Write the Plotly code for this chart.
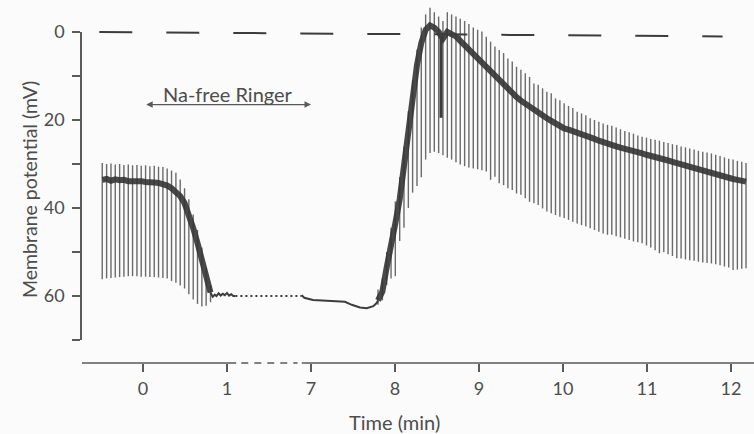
import plotly.graph_objects as go

# ---------------- data (time in min, membrane potential in mV, plotted downward) ----------------
seg1_t = [-0.485, -0.433, -0.381, -0.330, -0.278, -0.227, -0.175, -0.124, -0.072, -0.021,
          0.031, 0.082, 0.134, 0.185, 0.237, 0.288, 0.340, 0.392, 0.443, 0.495,
          0.546, 0.598, 0.649, 0.701, 0.752, 0.804]
seg1_top = [29.8, 30.0, 29.9, 30.1, 30.0, 30.2, 30.1, 30.3, 30.2, 30.4,
            30.3, 30.5, 30.4, 30.6, 30.7, 31.0, 31.5, 32.0, 33.5, 35.5,
            38.0, 41.5, 45.0, 49.0, 53.5, 57.5]
seg1_bot = [56.2, 56.0, 55.9, 55.8, 55.7, 55.6, 55.5, 55.5, 55.5, 55.6,
            55.6, 55.7, 55.7, 55.8, 55.9, 56.0, 56.6, 57.0, 57.6, 58.3,
            59.6, 60.8, 61.8, 62.4, 62.2, 61.4]
seg1_base = [33.6, 33.4, 33.8, 33.5, 33.7, 33.6, 33.9, 33.8, 34.0, 33.9,
             34.1, 34.0, 34.2, 34.3, 34.5, 34.9, 35.5, 36.3, 37.3, 38.9,
             41.4, 44.6, 48.0, 52.2, 56.4, 59.2]

rest1_t = [0.804, 0.830, 0.855, 0.875, 0.900, 0.925, 0.950, 0.975, 1.000, 1.025, 1.050, 1.075, 1.100]
rest1_v = [59.2, 60.2, 59.7, 60.0, 59.4, 59.9, 59.5, 59.8, 59.3, 59.9, 59.6, 60.0, 60.0]

gap_t = [1.100, 6.889]
gap_v = [60.0, 60.0]

rest2_t = [6.889, 6.920, 7.024, 7.226, 7.405, 7.485, 7.583, 7.663, 7.742, 7.782, 7.798]
rest2_v = [59.8, 60.4, 60.9, 61.1, 61.3, 62.0, 62.6, 62.8, 62.3, 61.6, 61.0]

seg2_t = [7.798, 7.850, 7.901, 7.953, 8.004, 8.056, 8.107, 8.159, 8.210, 8.262,
          8.313, 8.365, 8.417, 8.468, 8.520, 8.571, 8.623, 8.674, 8.726, 8.777,
          8.829, 8.880, 8.932, 8.984, 9.035, 9.087, 9.138, 9.190, 9.241, 9.293,
          9.344, 9.396, 9.447, 9.499, 9.551, 9.602, 9.654, 9.705, 9.757, 9.808,
          9.860, 9.911, 9.963, 10.014, 10.066, 10.117, 10.169, 10.221, 10.272, 10.324,
          10.375, 10.427, 10.478, 10.530, 10.581, 10.633, 10.684, 10.736, 10.788, 10.839,
          10.891, 10.942, 10.994, 11.045, 11.097, 11.148, 11.200, 11.251, 11.303, 11.355,
          11.406, 11.458, 11.509, 11.561, 11.612, 11.664, 11.715, 11.767, 11.818, 11.870,
          11.922, 11.973, 12.025, 12.076, 12.128, 12.179]
seg2_top = [58.5, 56.0, 50.0, 44.5, 38.5, 33.0, 26.0, 18.0, 11.0, 4.0,
            -1.0, -4.0, -5.5, -4.5, -3.5, -2.5, -4.5, -4.0, -3.5, -3.0,
            -2.5, -1.8, -1.0, -0.5, -0.1, 1.1, 2.2, 3.3, 4.1, 4.8,
            6.0, 6.7, 7.9, 8.6, 9.4, 10.2, 11.7, 12.0, 12.8, 13.6,
            13.9, 15.1, 15.5, 16.2, 16.8, 17.3, 18.1, 18.5, 18.9, 19.6,
            20.0, 20.4, 20.8, 21.1, 21.3, 21.7, 22.1, 22.5, 22.8, 23.1,
            23.5, 23.8, 24.0, 24.3, 24.5, 24.7, 25.0, 25.2, 25.5, 25.7,
            26.0, 26.2, 26.5, 26.7, 27.0, 27.2, 27.4, 27.6, 27.9, 28.2,
            28.5, 28.8, 29.0, 29.3, 29.5, 29.8]
seg2_bot = [62.0, 61.0, 57.5, 56.0, 55.5, 47.5, 44.5, 40.0, 36.5, 35.0,
            33.0, 29.0, 27.5, 27.2, 27.5, 28.0, 28.6, 29.0, 29.6, 30.1,
            30.5, 30.8, 31.0, 31.2, 31.4, 31.7, 33.6, 32.9, 34.4, 34.8,
            35.5, 35.9, 36.7, 37.0, 37.8, 38.6, 38.9, 39.3, 40.1, 40.8,
            41.2, 41.6, 42.0, 42.3, 42.7, 43.1, 43.5, 43.9, 44.2, 44.6,
            45.0, 45.4, 45.8, 46.1, 46.1, 46.4, 46.7, 47.0, 47.3, 47.6,
            47.8, 48.0, 48.5, 49.0, 49.6, 50.3, 50.0, 50.5, 50.9, 51.4,
            51.5, 51.7, 51.9, 52.0, 52.2, 52.4, 52.5, 52.6, 52.8, 53.0,
            53.3, 53.5, 54.1, 54.0, 53.8, 53.7]
seg2_base = [61.0, 59.0, 53.5, 49.0, 43.5, 38.0, 30.0, 22.0, 14.5, 7.5,
             2.5, -0.5, -1.5, -1.0, 0.0, 1.5, 0.0, 0.5, 1.0, 2.0,
             3.0, 4.0, 5.0, 6.0, 7.0, 8.0, 9.0, 10.2, 11.2, 12.0,
             13.0, 14.0, 14.8, 15.6, 16.3, 17.2, 17.8, 18.4, 19.0, 19.6,
             20.2, 20.8, 21.4, 21.9, 22.2, 22.5, 22.8, 23.1, 23.5, 23.9,
             24.3, 24.7, 25.1, 25.5, 25.8, 26.0, 26.3, 26.5, 26.8, 27.0,
             27.3, 27.6, 27.9, 28.1, 28.4, 28.7, 29.0, 29.2, 29.5, 29.8,
             30.1, 30.4, 30.7, 31.0, 31.3, 31.6, 31.9, 32.2, 32.4, 32.7,
             32.9, 33.1, 33.4, 33.6, 33.8, 34.0]

notch_t = [8.548, 8.548]
notch_v = [1.0, 19.5]

zero_t = [-0.52, 11.90]
zero_v = [0.0, 1.0]

x_tick_labels = ["0", "1", "7", "8", "9", "10", "11", "12"]
y_tick_vals = [0, 10, 20, 30, 40, 50, 60, 70]
y_tick_labels = ["0", "", "20", "", "40", "", "60", ""]
bath_start, bath_end, bath_level = 0.0, 7.0, 16.5

# ---------------- axis break: minutes 1..7 are compressed ----------------
def disp(t):
    return t if t < 3 else t - 5

def dl(ts):
    return [disp(t) for t in ts]

FONT = "Lato"
TXT = "#4d4d4d"
AX = "#5a5a5a"
PULSE = "#6a6a6a"
BAND = "#3c3c3c"
BG = "#fbfbfb"

fig = go.Figure()

# electrotonic pulses
for ts, tops, bots in [(seg1_t, seg1_top, seg1_bot), (seg2_t, seg2_top, seg2_bot)]:
    xs, ys = [], []
    for t, a, b in zip(ts, tops, bots):
        xs += [disp(t), disp(t), None]
        ys += [a, b, None]
    fig.add_trace(go.Scatter(x=xs, y=ys, mode="lines", line=dict(color=PULSE, width=1.4),
                             hoverinfo="skip", showlegend=False))

# resting potential band
for ts, vs in [(seg1_t, seg1_base), (seg2_t, seg2_base)]:
    fig.add_trace(go.Scatter(x=dl(ts), y=vs, mode="lines",
                             line=dict(color="rgba(52,52,52,0.9)", width=6),
                             hoverinfo="skip", showlegend=False))

fig.add_trace(go.Scatter(x=dl(notch_t), y=notch_v, mode="lines", line=dict(color=BAND, width=3),
                         hoverinfo="skip", showlegend=False))

for ts, vs in [(rest1_t, rest1_v), (rest2_t, rest2_v)]:
    fig.add_trace(go.Scatter(x=dl(ts), y=vs, mode="lines", line=dict(color=BAND, width=2),
                             hoverinfo="skip", showlegend=False))

fig.add_trace(go.Scatter(x=dl(gap_t), y=gap_v, mode="lines",
                         line=dict(color=BAND, width=2, dash="2px,3px"),
                         hoverinfo="skip", showlegend=False))

# zero reference line
fig.add_trace(go.Scatter(x=dl(zero_t), y=zero_v, mode="lines",
                         line=dict(color=BAND, width=2, dash="33px,34px"),
                         hoverinfo="skip", showlegend=False))

# anchor trace for the visible y axis
fig.add_trace(go.Scatter(x=[None], y=[None], yaxis="y2", showlegend=False, hoverinfo="skip"))

# broken x-axis line
shape_line = dict(color=AX, width=1.5)
fig.add_shape(type="line", xref="x", yref="paper", x0=-0.75, x1=1.11, y0=0, y1=0, line=shape_line)
fig.add_shape(type="line", xref="x", yref="paper", x0=1.17, x1=1.84, y0=0, y1=0,
              line=dict(color=AX, width=1.5, dash="7px,6px"))
fig.add_shape(type="line", xref="x", yref="paper", x0=1.89, x1=7.3, y0=0, y1=0, line=shape_line)

# Na-free Ringer arrow and label
fig.add_annotation(x=disp(bath_end), y=bath_level, ax=disp(bath_start) + 0.02, ay=bath_level,
                   xref="x", yref="y", axref="x", ayref="y", text="", showarrow=True,
                   arrowhead=2, startarrowhead=2, arrowside="end+start", arrowsize=1,
                   arrowwidth=1.3, arrowcolor=AX, standoff=0, startstandoff=0)
fig.add_annotation(x=1.01, y=14.0, xref="x", yref="y", text="Na-free Ringer", showarrow=False,
                   font=dict(family=FONT, size=20, color=TXT))

fig.add_annotation(x=2.994, y=-0.164, xref="x", yref="paper", text="Time (min)", showarrow=False,
                   font=dict(family=FONT, size=20, color=TXT), yanchor="middle")
fig.add_annotation(x=-0.098, y=0.485, xref="paper", yref="paper", text="Membrane potential (mV)",
                   textangle=-90, showarrow=False, font=dict(family=FONT, size=19.5, color=TXT))

fig.update_layout(
    width=754, height=434,
    margin=dict(l=82, r=0, t=5, b=71),
    paper_bgcolor=BG, plot_bgcolor="rgba(0,0,0,0)",
    showlegend=False,
    xaxis=dict(range=[-0.726, 7.274], showline=False, showgrid=False, zeroline=False,
               ticks="outside", ticklen=8, tickwidth=1.5, tickcolor=AX,
               tickvals=list(range(len(x_tick_labels))), ticktext=x_tick_labels,
               tickfont=dict(family=FONT, size=18, color=TXT), automargin=False,
               ticklabelstandoff=1, anchor="y"),
    yaxis=dict(range=[75.227, -6.136], visible=False, domain=[0, 1]),
    yaxis2=dict(domain=[0.06425, 0.92458], range=[70, 0], anchor="x", side="left",
                showline=True, linecolor=AX, linewidth=1.5, showgrid=False, zeroline=False,
                ticks="outside", ticklen=8, tickwidth=1.5, tickcolor=AX,
                tickvals=y_tick_vals, ticktext=y_tick_labels,
                tickfont=dict(family=FONT, size=18, color=TXT), automargin=False,
                ticklabelstandoff=4),
)

fig.write_html("out.html")
